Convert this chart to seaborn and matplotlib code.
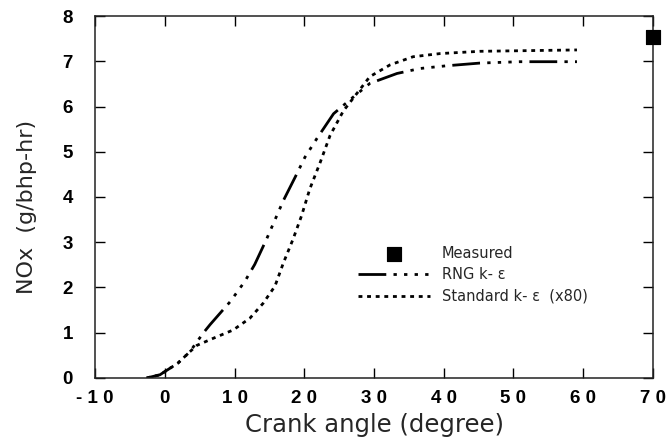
import numpy as np
import pandas as pd
import matplotlib
matplotlib.use('Agg')
import matplotlib.pyplot as plt
import seaborn as sns

# RNG k-eps curve (crank angle, NOx)
rng_angle = [-2.6, -0.7, 1.9, 3.6, 5.5, 6.5, 9.4, 11.5, 12.9, 14.6, 17.0, 18.7,
             20.1, 21.8, 24.2, 26.8, 29.4, 33.3, 36.6, 40.4, 45.2, 50.9, 59.1]
rng_nox = [0.0, 0.07, 0.33, 0.58, 0.99, 1.18, 1.69, 2.14, 2.51, 3.07, 3.92, 4.44,
           4.88, 5.29, 5.84, 6.18, 6.51, 6.73, 6.84, 6.90, 6.96, 6.99, 6.99]

# Standard k-eps curve (x80)
std_angle = [-2.6, -0.7, 1.9, 3.6, 4.6, 7.0, 9.8, 12.2, 14.1, 15.8, 17.0, 18.4,
             19.6, 20.8, 22.3, 23.7, 25.6, 27.0, 29.4, 32.3, 35.6, 39.5, 45.2, 59.1]
std_nox = [0.0, 0.07, 0.33, 0.58, 0.72, 0.88, 1.06, 1.32, 1.65, 2.03, 2.54, 3.07,
           3.58, 4.18, 4.77, 5.36, 5.90, 6.18, 6.66, 6.92, 7.10, 7.17, 7.22, 7.25]

meas_angle = [70]
meas_nox = [7.53]

xticks = [-10, 0, 10, 20, 30, 40, 50, 60, 70]
xtick_labels = ['- 1 0', '0', '1 0', '2 0', '3 0', '4 0', '5 0', '6 0', '7 0']
yticks = [0, 1, 2, 3, 4, 5, 6, 7, 8]

sns.set_style('ticks')
plt.rcParams['font.family'] = ['Liberation Sans', 'DejaVu Sans']

fig = plt.figure(figsize=(6.72, 4.41), dpi=100)
ax = fig.add_axes([0.1414, 0.1429, 0.8303, 0.8208])

df_rng = pd.DataFrame({'angle': rng_angle, 'nox': rng_nox})
df_std = pd.DataFrame({'angle': std_angle, 'nox': std_nox})

sns.lineplot(data=df_rng, x='angle', y='nox', ax=ax, color='black', linewidth=2.0,
             label='RNG k- \u03b5', sort=False)
sns.lineplot(data=df_std, x='angle', y='nox', ax=ax, color='black', linewidth=2.0,
             label='Standard k- \u03b5  (x80)', sort=False)
ax.lines[0].set_dashes([10, 2.6, 1.2, 2.6, 1.2, 2.6, 1.2, 2.6, 1.2, 2.6])
ax.lines[1].set_dashes([1.4, 1.7])

sns.scatterplot(x=meas_angle, y=meas_nox, ax=ax, marker='s', s=110, color='black',
                edgecolor='black', label='Measured', clip_on=False, zorder=5)

ax.set_xlim(-10, 70)
ax.set_ylim(0, 8)
ax.set_xticks(xticks)
ax.set_xticklabels(xtick_labels)
ax.set_yticks(yticks)
ax.tick_params(direction='in', length=7, width=1, top=True, right=True,
               labelsize=13.5, colors='black')
ax.tick_params(axis='y', pad=16)
ax.tick_params(axis='x', pad=9)
for lab in ax.get_xticklabels() + ax.get_yticklabels():
    lab.set_fontweight('bold')
    lab.set_family('Liberation Sans')
for sp in ax.spines.values():
    sp.set_linewidth(1.1)
    sp.set_color('#222222')

ax.set_xlabel('Crank angle (degree)', fontsize=17.5, family='DejaVu Sans')
ax.set_ylabel('NOx  (g/bhp-hr)', fontsize=16, family='DejaVu Sans')
ax.xaxis.set_label_coords(0.5, -0.097)
ax.yaxis.set_label_coords(-0.104, 0.472)

h, l = ax.get_legend_handles_labels()
order = [2, 0, 1]
ax.legend([h[i] for i in order], [l[i] for i in order], loc='upper left',
          bbox_to_anchor=(0.4485, 0.402), frameon=False,
          prop={'family': 'DejaVu Sans', 'size': 10.5},
          handlelength=4.9, handletextpad=0.8, labelspacing=0.45)

fig.savefig('out.png', dpi=100)
